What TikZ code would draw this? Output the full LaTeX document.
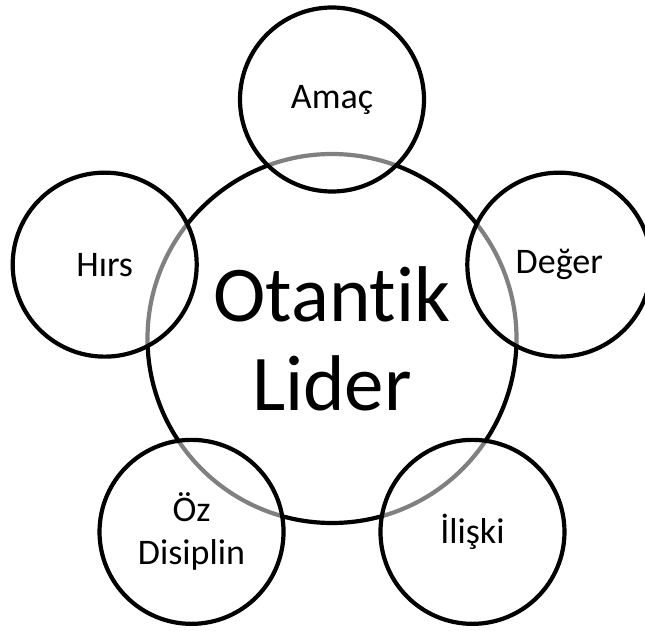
\documentclass[tikz,border=0pt]{standalone}
\usepackage{fontspec}
\setmainfont{Carlito}[Ligatures=NoCommon]
\usetikzlibrary{positioning}
\tikzstyle{leader} = [circle, draw, line width=4.2pt, minimum size=369pt,
                inner sep=0pt, align=center, font=\fontsize{79}{89}\selectfont]
\tikzstyle{trait} = [circle, draw, line width=4.2pt, fill=white, fill opacity=0.5,
                text opacity=1, minimum size=184pt, inner sep=0pt, align=center,
                font=\fontsize{36}{43}\selectfont]

\begin{document}
\begin{tikzpicture}[x=1pt,y=1pt]
        \useasboundingbox (0,0) rectangle (645,630);
        \node[leader] (lider) at (332,291.5) {Otantik\\Lider};
        % five traits on a pentagon round the leader
        \node[trait] (amac) at ([shift={(90:239)}]lider.center) {Amaç};
        \node[trait] (hirs) at ([shift={(162:239)}]lider.center) {Hırs};
        \node[trait] (deger) at ([shift={(18:239)}]lider.center) {Değer};
        \node[trait] (ozdisiplin) at ([shift={(234:239)}]lider.center) {Öz\\Disiplin};
        \node[trait] (iliski) at ([shift={(306:239)}]lider.center) {İlişki};
\end{tikzpicture}
\end{document}
